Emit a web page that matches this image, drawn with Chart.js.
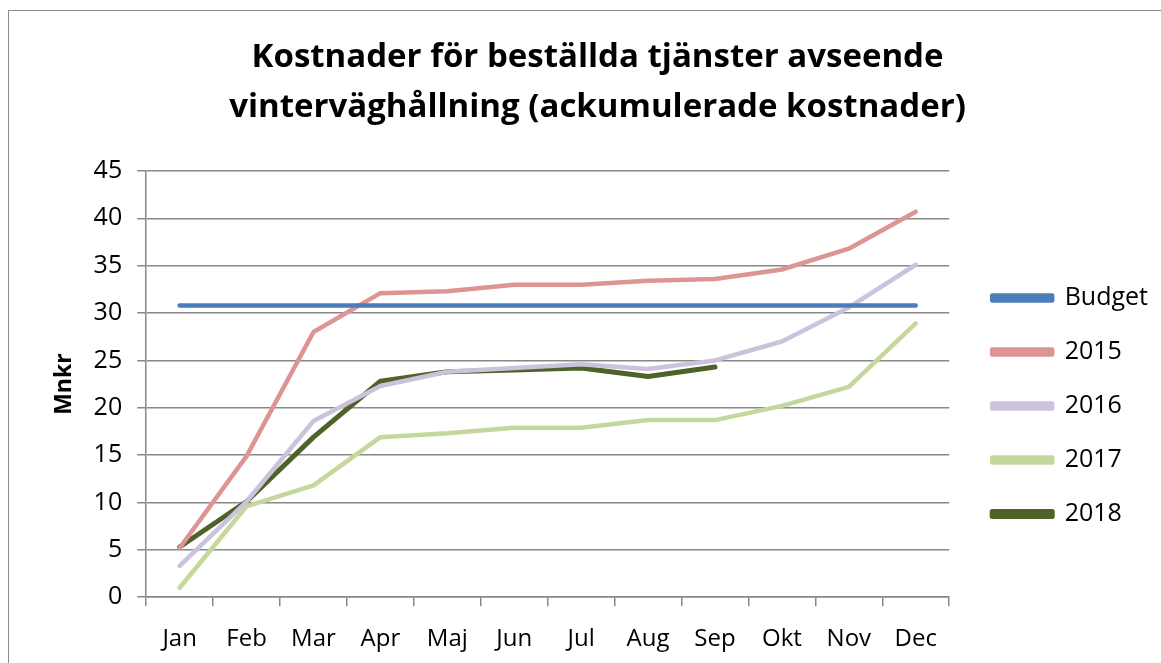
<!DOCTYPE html>
<html lang="sv">
<head>
    <meta charset="UTF-8">
    <title>Kostnader vinterväghållning</title>
    <script src="https://cdn.jsdelivr.net/npm/chart.js"></script>
    <style>
        html, body { margin: 0; padding: 0; overflow: hidden; background: #fff; }
        .frame {
            position: absolute; left: 8px; top: 10px;
            width: 1200px; height: 700px;
            border: 1.5px solid #8c8c8c; box-sizing: border-box;
        }
        .chart-box { position: absolute; left: 0; top: 0; width: 1161px; height: 673px; }
    </style>
</head>
<body>
    <div class="frame"></div>
    <div class="chart-box"><canvas id="costChart" width="1161" height="673"></canvas></div>

    <script>
        const months = ['Jan', 'Feb', 'Mar', 'Apr', 'Maj', 'Jun', 'Jul', 'Aug', 'Sep', 'Okt', 'Nov', 'Dec'];
        const budget = [30.8, 30.8, 30.8, 30.8, 30.8, 30.8, 30.8, 30.8, 30.8, 30.8, 30.8, 30.8];
        const cost2015 = [5.2, 14.9, 28.0, 32.1, 32.3, 33.0, 33.0, 33.4, 33.6, 34.6, 36.8, 40.7];
        const cost2016 = [3.3, 10.1, 18.6, 22.3, 23.8, 24.2, 24.6, 24.1, 25.0, 27.0, 30.6, 35.1];
        const cost2017 = [1.0, 9.6, 11.8, 16.9, 17.3, 17.9, 17.9, 18.7, 18.7, 20.2, 22.2, 28.9];
        const cost2018 = [5.3, 10.1, 16.9, 22.8, 23.8, 24.0, 24.2, 23.3, 24.3, null, null, null];
        const yTicks = [0, 5, 10, 15, 20, 25, 30, 35, 40, 45];

        const font = 'Open Sans';

        function line(label, data, color, width) {
            return {
                label: label,
                data: data,
                borderColor: color,
                backgroundColor: color,
                borderWidth: width,
                borderCapStyle: 'round',
                borderJoinStyle: 'round',
                pointRadius: 0,
                tension: 0,
                spanGaps: false
            };
        }

        // nudge the legend to where the reference has it
        const legendShift = {
            id: 'legendShift',
            afterLayout(chart) {
                const lg = chart.legend;
                lg.top += 22;
                lg.bottom += 22;
                lg.left += 14;
                lg.right += 14;
            }
        };

        new Chart(document.getElementById('costChart'), {
            type: 'line',
            data: {
                labels: months,
                datasets: [
                    line('Budget', budget, '#4a7ebb', 4.5),
                    line('2015', cost2015, '#dc9592', 4.5),
                    line('2016', cost2016, '#cdc2db', 4.5),
                    line('2017', cost2017, '#c4d79c', 4.5),
                    line('2018', cost2018, '#4f6228', 5)
                ]
            },
            options: {
                responsive: false,
                animation: false,
                layout: { padding: { left: 51, right: 17, top: 0, bottom: 0 } },
                plugins: {
                    title: {
                        display: true,
                        text: ['Kostnader för beställda tjänster avseende', 'vinterväghållning (ackumulerade kostnader)'],
                        color: '#000',
                        font: { family: font, size: 33, weight: 'bold', lineHeight: 1.5 },
                        padding: { top: 33, bottom: 39 }
                    },
                    legend: {
                        position: 'right',
                        fullSize: false,
                        labels: {
                            color: '#000',
                            font: { family: font, size: 25 },
                            boxWidth: 60,
                            boxHeight: 5,
                            padding: 29
                        }
                    },
                    tooltip: { enabled: false }
                },
                scales: {
                    x: {
                        offset: true,
                        grid: { offset: true, drawOnChartArea: false, color: '#888', tickLength: 9, lineWidth: 1.5 },
                        border: { color: '#888', width: 1.5 },
                        ticks: { color: '#000', font: { family: font, size: 24 }, padding: 19, maxRotation: 0, autoSkip: false }
                    },
                    y: {
                        min: 0,
                        max: 45,
                        afterBuildTicks: function(scale) {
                            scale.ticks = yTicks.map(v => ({ value: v }));
                        },
                        grid: { color: '#888', lineWidth: 1.5, tickLength: 9 },
                        border: { color: '#888', width: 1.5 },
                        ticks: { color: '#000', font: { family: font, size: 25 }, padding: 15 },
                        title: {
                            display: true,
                            text: 'Mnkr',
                            color: '#000',
                            font: { family: font, size: 23, weight: 'bold' },
                            padding: { top: 0, bottom: 0 }
                        }
                    }
                }
            },
            plugins: [legendShift]
        });
    </script>
</body>
</html>
